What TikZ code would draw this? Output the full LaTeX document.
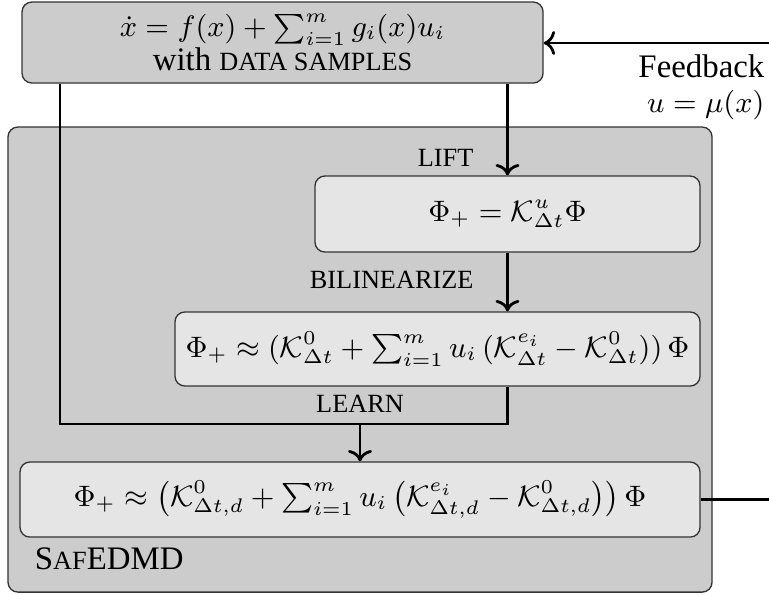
\RequirePackage{fix-cm}
\documentclass[tikz,border=0pt]{standalone}
\usepackage{amsmath,amssymb}
\usepackage{fontspec}
\setmainfont[Scale=1.111]{Liberation Serif}
\usetikzlibrary{arrows.meta,calc,positioning}
\definecolor{boxgray}{gray}{0.8}
\definecolor{innergray}{gray}{0.9}
\newcommand{\fsc}[1]{{\fontsize{7.2}{9}\selectfont\MakeUppercase{#1}}}

\begin{document}
\begin{tikzpicture}[>={To},line width=0.85pt,font=\fontsize{9}{10.5}\selectfont,
  outerbox/.style={draw=black!80,line width=0.4pt,fill=boxgray,rounded corners=3pt,inner sep=0pt},
  innerbox/.style={draw=black!80,line width=0.4pt,fill=innergray,rounded corners=3pt,inner sep=2pt}]
  \useasboundingbox (0,0) rectangle (8.228,-6.356);
  \node[outerbox,minimum width=7.533cm,minimum height=4.976cm] (safe) at (3.852,-3.847) {};
  \node[outerbox,minimum width=5.575cm,minimum height=0.867cm,align=center] (sys) at (3.023,-0.455)
    {$\dot{x}=f(x)+\sum_{i=1}^m g_i(x)u_i$\\ with \fsc{data samples}};
  \node[innerbox,minimum width=4.12cm,minimum height=0.813cm] (lift) at (5.43,-2.29)
    {$\Phi_+=\mathcal{K}^u_{\Delta t}\Phi$};
  \node[innerbox,minimum width=5.618cm,minimum height=0.792cm] (bilin) at (4.681,-3.734)
    {$\Phi_+\approx(\mathcal{K}^0_{\Delta t}+\sum_{i=1}^m u_i\,(\mathcal{K}^{e_i}_{\Delta t}-\mathcal{K}^0_{\Delta t}))\,\Phi$};
  \node[innerbox,minimum width=7.276cm,minimum height=0.803cm] (learn) at (3.852,-5.345)
    {$\Phi_+\approx\bigl(\mathcal{K}^0_{\Delta t,d}+\sum_{i=1}^m u_i\,\bigl(\mathcal{K}^{e_i}_{\Delta t,d}-\mathcal{K}^0_{\Delta t,d}\bigr)\bigr)\,\Phi$};
  \node[anchor=south west] (name) at ([xshift=0.15cm,yshift=0.1cm]safe.south west) {S\fsc{af}EDMD};

  \coordinate (jl) at (0.642,-4.537);
  \coordinate (jr) at (lift.south |- jl);
  \coordinate (fb) at (8.228,-0.46);
  \coordinate (out) at (8.228,-5.345);

  \draw (sys.south -| jl) -- (jl) -- (jr) -- (bilin.south -| jr);
  \draw[->] (sys.south -| lift.north) -- node[pos=0.81,left=0.22cm]{\fsc{lift}} (lift.north);
  \draw[->] (lift.south) -- node[pos=0.47,left=0.22cm]{\fsc{bilinearize}} (bilin.north -| lift.south);
  \draw[->] (learn.north |- jl) -- (learn.north);
  \node[above=-0.5pt] (learnlbl) at (learn.north |- jl) {\fsc{learn}};

  \draw[->] (fb) -- (fb -| sys.east);
  \node[anchor=north east,align=right,inner sep=1pt] (fblbl) at ([yshift=-0.08cm]fb) {Feedback\\$u=\mu(x)$};
  \draw (learn.east) -- (out);
\end{tikzpicture}
\end{document}
